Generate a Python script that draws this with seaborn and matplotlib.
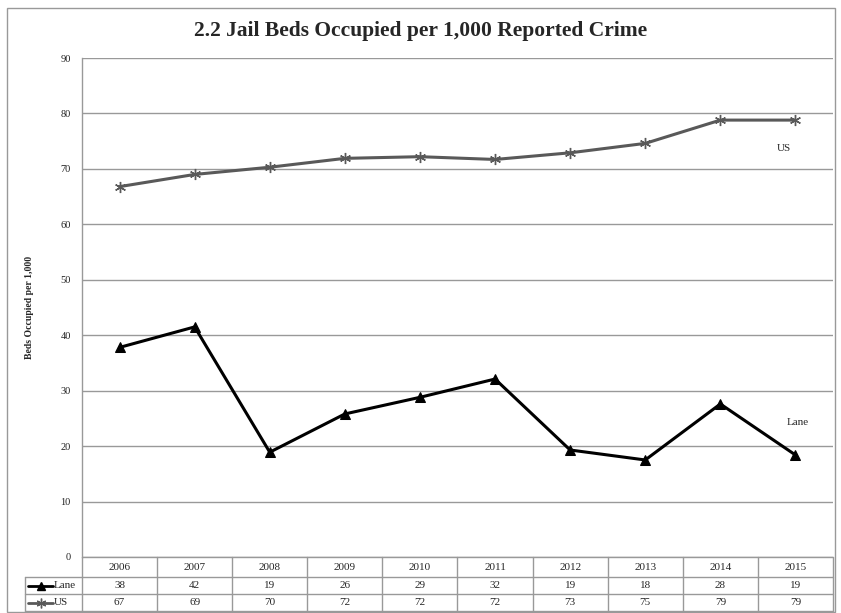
import numpy as np
import pandas as pd
import matplotlib
matplotlib.use("Agg")
import matplotlib.pyplot as plt
from matplotlib.lines import Line2D
from matplotlib.patches import Rectangle
import seaborn as sns

# data
years = ["2006", "2007", "2008", "2009", "2010", "2011", "2012", "2013", "2014", "2015"]
lane = [37.8, 41.5, 18.9, 25.8, 28.8, 32.1, 19.3, 17.5, 27.6, 18.4]
us = [66.8, 69.0, 70.3, 71.9, 72.2, 71.7, 72.9, 74.6, 78.8, 78.8]
lane_table = [38, 42, 19, 26, 29, 32, 19, 18, 28, 19]
us_table = [67, 69, 70, 72, 72, 72, 73, 75, 79, 79]

df = pd.DataFrame({"year": years * 2,
                   "value": lane + us,
                   "series": ["Lane"] * 10 + ["US"] * 10})

sns.set_theme(style="white")
plt.rcParams["font.family"] = ["Liberation Serif", "DejaVu Serif"]

W, H = 841, 613
fig = plt.figure(figsize=(W / 100, H / 100), dpi=100)


def fx(px):
    return px / W


def fy(py):
    return 1 - py / H


# plot area in pixels
L, R, T, B = 82, 833, 58, 557
ax = fig.add_axes([fx(L), fy(B), fx(R) - fx(L), fy(T) - fy(B)])

asterisk = (6, 2, 0)
sns.lineplot(data=df[df.series == "US"], x="year", y="value", ax=ax,
             color="#595959", lw=2.2, marker=asterisk, markersize=8,
             markeredgewidth=1.0, markeredgecolor="#595959")
sns.lineplot(data=df[df.series == "Lane"], x="year", y="value", ax=ax,
             color="black", lw=2.2, marker="^", markersize=7,
             markeredgecolor="black", markerfacecolor="black")

ax.set_xlim(-0.5, 9.5)
ax.set_ylim(0, 90)
ax.set_yticks(range(0, 91, 10))
ax.set_xticks([])
ax.set_xlabel("")
ax.set_ylabel("Beds Occupied per 1,000", fontsize=7, fontweight="bold", labelpad=19)
ax.tick_params(axis="y", length=0, pad=8, labelsize=7.5, labelcolor="#222222")
ax.grid(axis="y", color="#999999", lw=1.0)
for s in ["top", "right", "bottom"]:
    ax.spines[s].set_visible(False)
ax.spines["left"].set_color("#999999")
ax.spines["left"].set_linewidth(1.0)

ax.text(8.75, 73.7, "US", fontsize=8, ha="left", va="center")
ax.text(8.88, 24.3, "Lane", fontsize=8, ha="left", va="center")

fig.text(0.5, fy(31), "2.2 Jail Beds Occupied per 1,000 Reported Crime",
         ha="center", va="center", fontsize=15.5, fontweight="bold")

# data table below the plot
gc = "#999999"
col_w = (R - L) / 10
rows_y = [B, 577, 594, 611]
tl = 25


def hline(y, x0, x1):
    fig.add_artist(Line2D([fx(x0), fx(x1)], [fy(y), fy(y)], color=gc, lw=1.0))


def vline(x, y0, y1):
    fig.add_artist(Line2D([fx(x), fx(x)], [fy(y0), fy(y1)], color=gc, lw=1.0))


hline(B, L, R)
for y in rows_y[1:]:
    hline(y, tl, R)
for k in range(11):
    vline(L + k * col_w, B, rows_y[-1])
vline(tl, rows_y[1], rows_y[-1])

fs = 8
for i, yr in enumerate(years):
    cx = L + (i + 0.5) * col_w
    fig.text(fx(cx), fy((rows_y[0] + rows_y[1]) / 2), yr, ha="center", va="center", fontsize=fs)
    fig.text(fx(cx), fy((rows_y[1] + rows_y[2]) / 2), str(lane_table[i]), ha="center", va="center", fontsize=fs)
    fig.text(fx(cx), fy((rows_y[2] + rows_y[3]) / 2), str(us_table[i]), ha="center", va="center", fontsize=fs)

# legend keys in the table
ly = (rows_y[1] + rows_y[2]) / 2
uy = (rows_y[2] + rows_y[3]) / 2
fig.add_artist(Line2D([fx(28), fx(53)], [fy(ly), fy(ly)], color="black", lw=2.0))
fig.add_artist(Line2D([fx(40.5)], [fy(ly)], color="black", marker="^", markersize=6))
fig.add_artist(Line2D([fx(28), fx(53)], [fy(uy), fy(uy)], color="#595959", lw=2.0))
fig.add_artist(Line2D([fx(40.5)], [fy(uy)], color="#595959", marker=asterisk, markersize=7, mew=1.0))
fig.text(fx(54), fy(ly), "Lane", ha="left", va="center", fontsize=fs)
fig.text(fx(54), fy(uy), "US", ha="left", va="center", fontsize=fs)

# outer chart border
fig.add_artist(Rectangle((fx(7), fy(612)), fx(835) - fx(7), fy(8) - fy(612),
                         fill=False, edgecolor=gc, lw=1.0))

fig.savefig("out.png", dpi=100)
